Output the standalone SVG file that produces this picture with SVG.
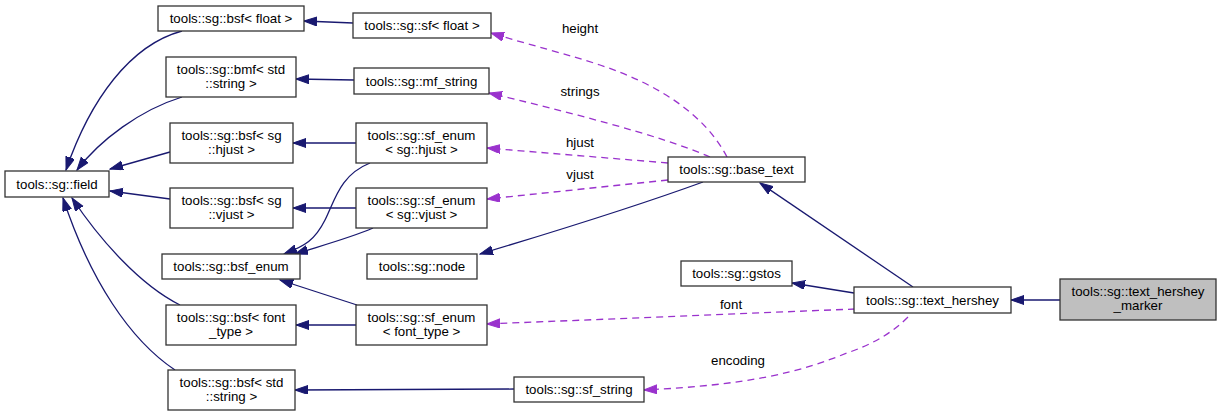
<svg xmlns="http://www.w3.org/2000/svg" width="1221" height="417" viewBox="0 0 1221 417">
<style>
.n rect{fill:#fff;stroke:#333;stroke-width:1.3}
.n text{font-family:"Liberation Sans",Arial,sans-serif;font-size:13.3px;fill:#000;text-anchor:middle}
.e path{fill:none}
.s{stroke:#191970;stroke-width:1.3}
.d{stroke:#9a32cd;stroke-width:1.3;stroke-dasharray:7,5}
.lbl{font-family:"Liberation Sans",Arial,sans-serif;font-size:13.3px;fill:#000;text-anchor:middle}
</style>
<defs>
<marker id="an" markerUnits="userSpaceOnUse" markerWidth="14" markerHeight="10" refX="13" refY="4.5" orient="auto"><path d="M0,0 L13,4.5 L0,9 z" fill="#191970" stroke="#191970"/></marker>
<marker id="ap" markerUnits="userSpaceOnUse" markerWidth="14" markerHeight="10" refX="13" refY="4.5" orient="auto"><path d="M0,0 L13,4.5 L0,9 z" fill="#9a32cd" stroke="#9a32cd"/></marker>
</defs>
<rect width="1221" height="417" fill="#fff"/>
<g id="edges" class="e">
<path class="s" marker-end="url(#an)" d="M182,31 C130,45 90,100 66,170"/>
<path class="s" marker-end="url(#an)" d="M182,97 C140,110 100,140 77,170"/>
<path class="s" marker-end="url(#an)" d="M170,152 L110,169"/>
<path class="s" marker-end="url(#an)" d="M170,199 L110,191"/>
<path class="s" marker-end="url(#an)" d="M180,305 C140,285 100,240 72,198"/>
<path class="s" marker-end="url(#an)" d="M175,370 C130,340 90,280 63,198"/>
<path class="s" marker-end="url(#an)" d="M353,23 L304,21"/>
<path class="s" marker-end="url(#an)" d="M354,80 L296,79"/>
<path class="s" marker-end="url(#an)" d="M356,143 L293,143"/>
<path class="s" marker-end="url(#an)" d="M356,208 L293,208"/>
<path class="s" marker-end="url(#an)" d="M370,163 C340,175 335,200 325,220 C315,240 305,246 284,254"/>
<path class="s" marker-end="url(#an)" d="M373,228 C350,238 320,246 295,254"/>
<path class="s" marker-end="url(#an)" d="M357,305 L280,280"/>
<path class="s" marker-end="url(#an)" d="M356,325 L296,325"/>
<path class="s" marker-end="url(#an)" d="M514,389 L295,390"/>
<path class="s" marker-end="url(#an)" d="M703,182 C640,205 560,230 480,254"/>
<path class="s" marker-end="url(#an)" d="M913,287 L760,183"/>
<path class="s" marker-end="url(#an)" d="M854,293 L792,283"/>
<path class="s" marker-end="url(#an)" d="M1060,300 L1011,300"/>
<path class="d" marker-end="url(#ap)" d="M727,157 C705,115 660,85 600,65 C570,55 530,45 491,33"/>
<path class="d" marker-end="url(#ap)" d="M710,157 C660,135 560,110 489,93"/>
<path class="d" marker-end="url(#ap)" d="M668,163 L487,148"/>
<path class="d" marker-end="url(#ap)" d="M668,180 L487,199"/>
<path class="d" marker-end="url(#ap)" d="M855,309 L487,324"/>
<path class="d" marker-end="url(#ap)" d="M908,317 C890,335 870,345 847,353 C800,372 750,385 644,390"/>
<text class="lbl" x="580" y="33">height</text>
<text class="lbl" x="580" y="96">strings</text>
<text class="lbl" x="580" y="147">hjust</text>
<text class="lbl" x="580" y="179">vjust</text>
<text class="lbl" x="731" y="309">font</text>
<text class="lbl" x="738" y="365">encoding</text>
</g>
<g id="field" class="n"><rect x="5" y="171" width="104" height="26"/><text x="57" y="188.5">tools::sg::field</text></g>
<g id="bsf_float" class="n"><rect x="158" y="6" width="146" height="25"/><text x="231" y="23">tools::sg::bsf&lt; float &gt;</text></g>
<g id="bmf_string" class="n"><rect x="166" y="57" width="130" height="40"/><text x="231" y="74">tools::sg::bmf&lt; std</text><text x="231" y="88">::string &gt;</text></g>
<g id="bsf_hjust" class="n"><rect x="170" y="123" width="123" height="40"/><text x="231.5" y="140">tools::sg::bsf&lt; sg</text><text x="231.5" y="154">::hjust &gt;</text></g>
<g id="bsf_vjust" class="n"><rect x="170" y="188" width="123" height="40"/><text x="231.5" y="205">tools::sg::bsf&lt; sg</text><text x="231.5" y="219">::vjust &gt;</text></g>
<g id="bsf_enum" class="n"><rect x="162" y="254" width="138" height="25"/><text x="231" y="271">tools::sg::bsf_enum</text></g>
<g id="bsf_font_type" class="n"><rect x="166" y="305" width="130" height="40"/><text x="231" y="322">tools::sg::bsf&lt; font</text><text x="231" y="336">_type &gt;</text></g>
<g id="bsf_string" class="n"><rect x="168" y="370" width="127" height="40"/><text x="231.5" y="387">tools::sg::bsf&lt; std</text><text x="231.5" y="401">::string &gt;</text></g>
<g id="sf_float" class="n"><rect x="353" y="13" width="138" height="25"/><text x="422" y="30">tools::sg::sf&lt; float &gt;</text></g>
<g id="mf_string" class="n"><rect x="354" y="68" width="135" height="26"/><text x="421.5" y="85.5">tools::sg::mf_string</text></g>
<g id="sf_enum_hjust" class="n"><rect x="356" y="123" width="131" height="40"/><text x="421.5" y="140">tools::sg::sf_enum</text><text x="421.5" y="154">&lt; sg::hjust &gt;</text></g>
<g id="sf_enum_vjust" class="n"><rect x="356" y="188" width="131" height="40"/><text x="421.5" y="205">tools::sg::sf_enum</text><text x="421.5" y="219">&lt; sg::vjust &gt;</text></g>
<g id="node" class="n"><rect x="367" y="254" width="110" height="25"/><text x="422" y="271">tools::sg::node</text></g>
<g id="sf_enum_font_type" class="n"><rect x="356" y="305" width="131" height="40"/><text x="421.5" y="322">tools::sg::sf_enum</text><text x="421.5" y="336">&lt; font_type &gt;</text></g>
<g id="sf_string" class="n"><rect x="514" y="377" width="130" height="25"/><text x="579" y="394">tools::sg::sf_string</text></g>
<g id="base_text" class="n"><rect x="668" y="157" width="137" height="25"/><text x="736.5" y="174">tools::sg::base_text</text></g>
<g id="gstos" class="n"><rect x="681" y="261" width="111" height="25"/><text x="736.5" y="278">tools::sg::gstos</text></g>
<g id="text_hershey" class="n"><rect x="854" y="287" width="157" height="26"/><text x="932.5" y="304.5">tools::sg::text_hershey</text></g>
<g id="text_hershey_marker" class="n"><rect x="1060" y="279" width="156" height="41" style="fill:#bfbfbf"/><text x="1138" y="296">tools::sg::text_hershey</text><text x="1138" y="310">_marker</text></g>
</svg>
